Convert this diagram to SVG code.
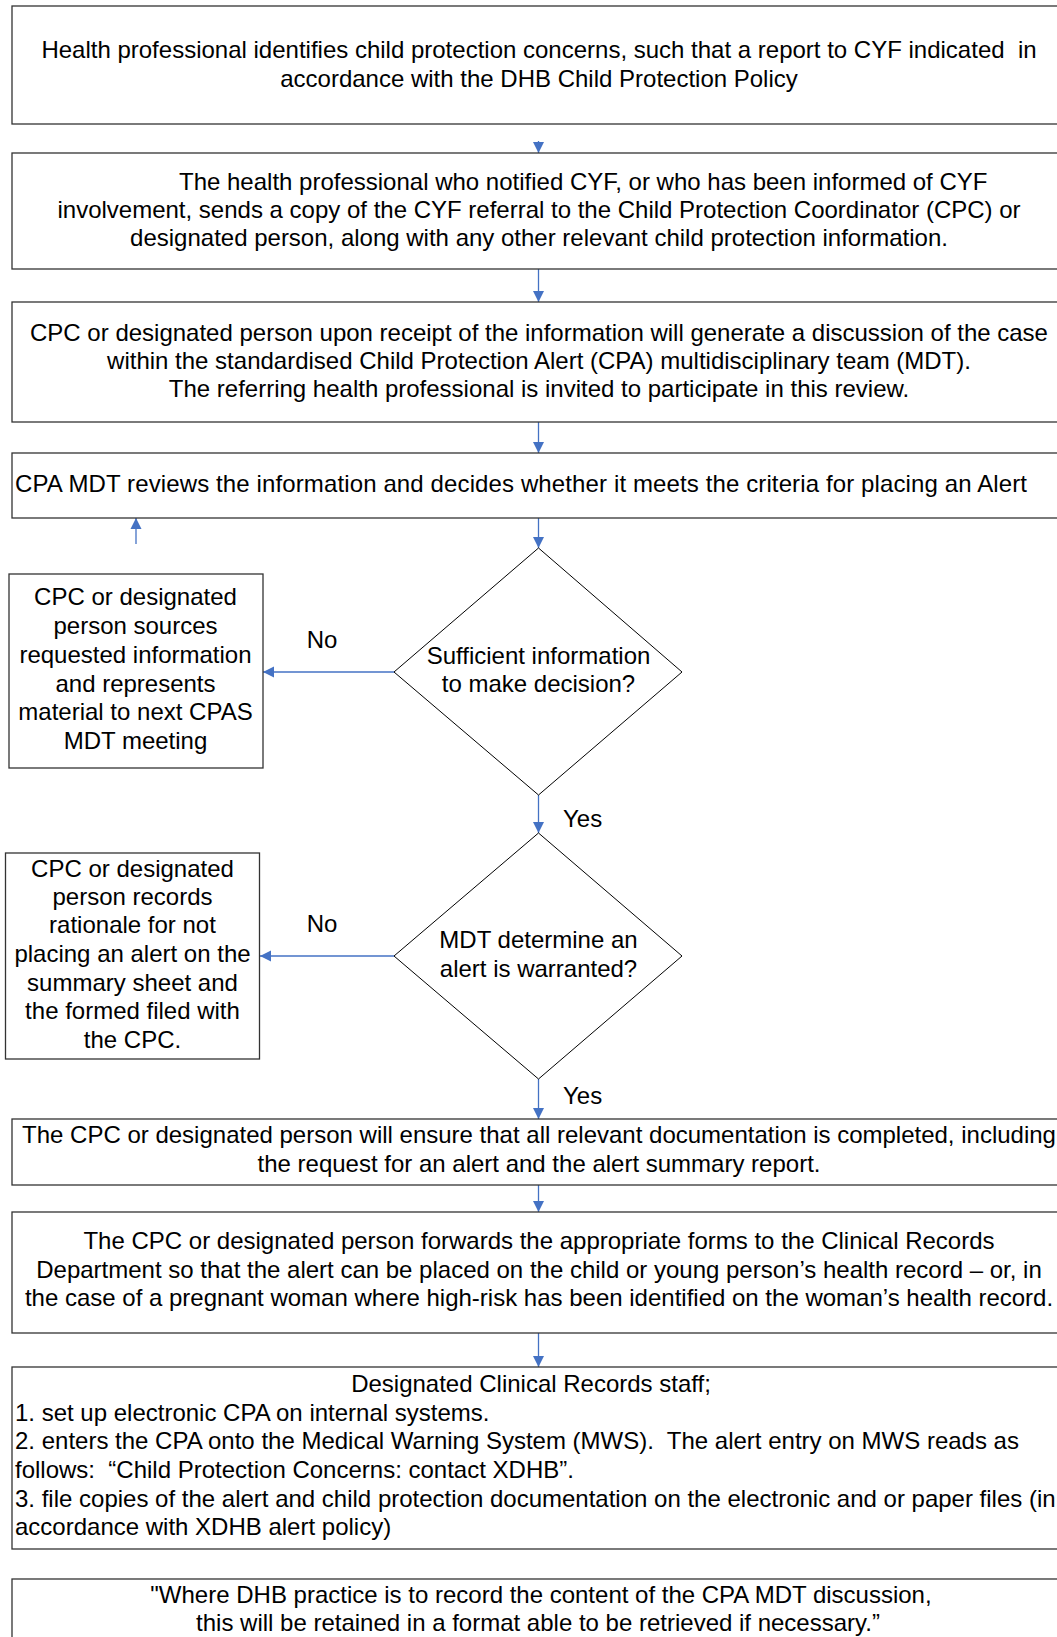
<svg xmlns="http://www.w3.org/2000/svg" width="1057" height="1637" viewBox="0 0 1057 1637">
<style>
.box{fill:#fff;stroke:#333;stroke-width:1.3}
.dia{fill:#fff;stroke:#000;stroke-width:1}
.t{font-family:"Liberation Sans",Arial,sans-serif;font-size:24px;fill:#000;white-space:pre}
.m{text-anchor:middle}
.c{stroke:#4472C4;stroke-width:1.3;fill:none;marker-end:url(#ah)}
</style>
<defs>
<marker id="ah" markerUnits="userSpaceOnUse" markerWidth="12" markerHeight="12" refX="11" refY="6" orient="auto" viewBox="0 0 12 12">
<path d="M0,0.5 L11,6 L0,11.5 z" fill="#4472C4"/>
</marker>
</defs>
<rect width="1057" height="1637" fill="#fff"/>
<g id="connectors">
<line class="c" x1="538.5" y1="141" x2="538.5" y2="153"/>
<line class="c" x1="538.5" y1="269" x2="538.5" y2="302"/>
<line class="c" x1="538.5" y1="422" x2="538.5" y2="453"/>
<line class="c" x1="538.5" y1="518" x2="538.5" y2="548"/>
<line class="c" x1="136" y1="544" x2="136" y2="518"/>
<line class="c" x1="394" y1="672" x2="263" y2="672"/>
<line class="c" x1="538.5" y1="795" x2="538.5" y2="833"/>
<line class="c" x1="394" y1="956" x2="260" y2="956"/>
<line class="c" x1="538.5" y1="1079" x2="538.5" y2="1119"/>
<line class="c" x1="538.5" y1="1185" x2="538.5" y2="1212"/>
<line class="c" x1="538.5" y1="1333" x2="538.5" y2="1367"/>
<text class="t m" x="322" y="648">No</text>
<text class="t m" x="322" y="932">No</text>
<text class="t" x="563" y="827">Yes</text>
<text class="t" x="563" y="1104">Yes</text>
</g>
<g id="n1">
<rect class="box" x="12" y="6" width="1060" height="118"/>
<text class="t m" x="539" y="58" xml:space="preserve">Health professional identifies child protection concerns, such that a report to CYF indicated  in</text>
<text class="t m" x="539" y="87">accordance with the DHB Child Protection Policy</text>
</g>
<g id="n2">
<rect class="box" x="12" y="153" width="1060" height="116"/>
<text class="t" x="179" y="190">The health professional who notified CYF, or who has been informed of CYF</text>
<text class="t m" x="539" y="218">involvement, sends a copy of the CYF referral to the Child Protection Coordinator (CPC) or</text>
<text class="t m" x="539" y="246">designated person, along with any other relevant child protection information.</text>
</g>
<g id="n3">
<rect class="box" x="12" y="302" width="1060" height="120"/>
<text class="t m" x="539" y="341">CPC or designated person upon receipt of the information will generate a discussion of the case</text>
<text class="t m" x="539" y="369">within the standardised Child Protection Alert (CPA) multidisciplinary team (MDT).</text>
<text class="t m" x="539" y="397">The referring health professional is invited to participate in this review.</text>
</g>
<g id="n4">
<rect class="box" x="12" y="453" width="1060" height="65"/>
<text class="t" x="15" y="492" textLength="1012" lengthAdjust="spacing">CPA MDT reviews the information and decides whether it meets the criteria for placing an Alert</text>
</g>
<g id="d1">
<polygon class="dia" points="538.5,548 682,672 538.5,795 394,672"/>
<text class="t m" x="538.5" y="664">Sufficient information</text>
<text class="t m" x="538.5" y="692">to make decision?</text>
</g>
<g id="n5">
<rect class="box" x="9" y="574" width="254" height="194"/>
<text class="t m" x="135.5" y="605">CPC or designated</text>
<text class="t m" x="135.5" y="634">person sources</text>
<text class="t m" x="135.5" y="663">requested information</text>
<text class="t m" x="135.5" y="692">and represents</text>
<text class="t m" x="135.5" y="720">material to next CPAS</text>
<text class="t m" x="135.5" y="749">MDT meeting</text>
</g>
<g id="d2">
<polygon class="dia" points="538.5,833 682,956 538.5,1079 394,956"/>
<text class="t m" x="538.5" y="948">MDT determine an</text>
<text class="t m" x="538.5" y="977">alert is warranted?</text>
</g>
<g id="n6">
<rect class="box" x="5.5" y="853" width="254" height="206"/>
<text class="t m" x="132.5" y="877">CPC or designated</text>
<text class="t m" x="132.5" y="905">person records</text>
<text class="t m" x="132.5" y="933">rationale for not</text>
<text class="t m" x="132.5" y="962">placing an alert on the</text>
<text class="t m" x="132.5" y="991">summary sheet and</text>
<text class="t m" x="132.5" y="1019">the formed filed with</text>
<text class="t m" x="132.5" y="1048">the CPC.</text>
</g>
<g id="n7">
<rect class="box" x="12" y="1119" width="1060" height="66"/>
<text class="t m" x="539" y="1143">The CPC or designated person will ensure that all relevant documentation is completed, including</text>
<text class="t m" x="539" y="1172">the request for an alert and the alert summary report.</text>
</g>
<g id="n8">
<rect class="box" x="12" y="1212" width="1060" height="121"/>
<text class="t m" x="539" y="1249">The CPC or designated person forwards the appropriate forms to the Clinical Records</text>
<text class="t m" x="539" y="1278">Department so that the alert can be placed on the child or young person’s health record – or, in</text>
<text class="t m" x="539" y="1306">the case of a pregnant woman where high-risk has been identified on the woman’s health record.</text>
</g>
<g id="n9">
<rect class="box" x="12" y="1367" width="1060" height="182"/>
<text class="t m" x="531" y="1392">Designated Clinical Records staff;</text>
<text class="t" x="15" y="1421">1. set up electronic CPA on internal systems.</text>
<text class="t" x="15" y="1449" xml:space="preserve">2. enters the CPA onto the Medical Warning System (MWS).  The alert entry on MWS reads as</text>
<text class="t" x="15" y="1478" xml:space="preserve">follows:  “Child Protection Concerns: contact XDHB”.</text>
<text class="t" x="15" y="1507">3. file copies of the alert and child protection documentation on the electronic and or paper files (in</text>
<text class="t" x="15" y="1535">accordance with XDHB alert policy)</text>
</g>
<g id="n10">
<rect class="box" x="12" y="1579" width="1060" height="80"/>
<text class="t m" x="541" y="1603">"Where DHB practice is to record the content of the CPA MDT discussion,</text>
<text class="t m" x="538" y="1631">this will be retained in a format able to be retrieved if necessary.”</text>
</g>
</svg>
